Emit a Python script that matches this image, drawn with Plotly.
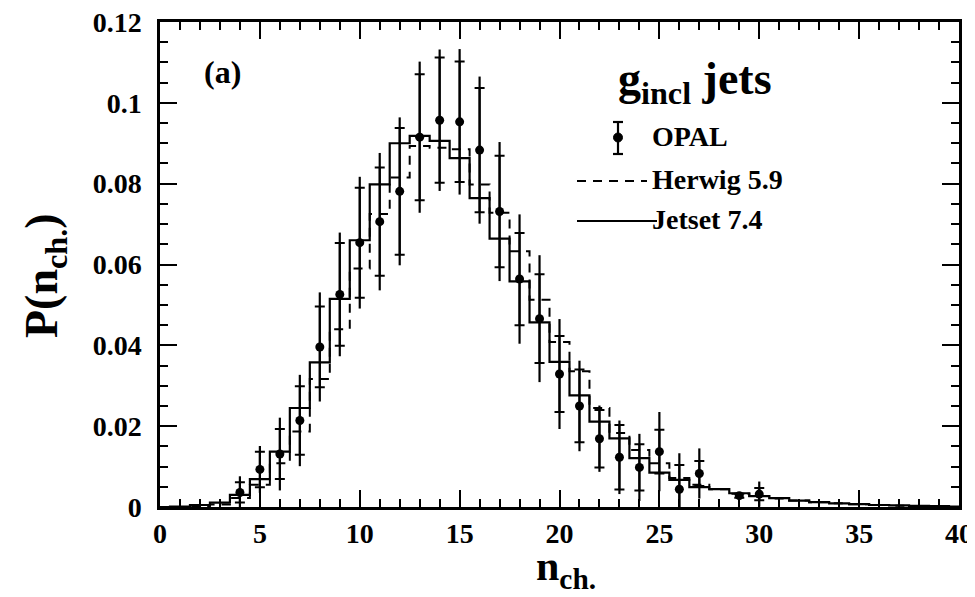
import plotly.graph_objects as go

# ---------------- data ----------------
bin_n = list(range(0, 41))
jetset = [0.0, 0.0001, 0.0005, 0.0011, 0.0030, 0.0069, 0.0137, 0.0245, 0.0358, 0.0515,
          0.0660, 0.0798, 0.0900, 0.0918, 0.0906, 0.0863, 0.0764, 0.0664, 0.0558, 0.0457,
          0.0359, 0.0276, 0.0211, 0.0170, 0.0121, 0.0085, 0.0067, 0.0049, 0.0044, 0.0034,
          0.0027, 0.0022, 0.0016, 0.0012, 0.0009, 0.0007, 0.0005, 0.0004, 0.0003, 0.0002,
          0.0001]
herwig = [0.0, 0.0, 0.0002, 0.0006, 0.0022, 0.0055, 0.0108, 0.0187, 0.0317, 0.0440,
          0.0590, 0.0725, 0.0815, 0.0893, 0.0889, 0.0885, 0.0798, 0.0728, 0.0633, 0.0513,
          0.0408, 0.0336, 0.0245, 0.0183, 0.0141, 0.0108, 0.0072, 0.0055, 0.0044, 0.0033,
          0.0027, 0.0021, 0.0016, 0.0012, 0.0009, 0.0007, 0.0005, 0.0003, 0.0002, 0.0001,
          0.0]

opal_n = [4, 5, 6, 7, 8, 9, 10, 11, 12, 13, 14, 15, 16, 17, 18, 19, 20, 21, 22, 23, 24,
          25, 26, 27, 29, 30]
opal_p = [0.0036, 0.0093, 0.0131, 0.0214, 0.0396, 0.0526, 0.0654, 0.0706, 0.0781, 0.0915,
          0.0957, 0.0953, 0.0883, 0.0731, 0.0564, 0.0466, 0.0329, 0.0250, 0.0169, 0.0123,
          0.0098, 0.0137, 0.0044, 0.0083, 0.0028, 0.0032]
opal_tot = [0.0040, 0.0058, 0.0090, 0.0113, 0.0135, 0.0153, 0.0163, 0.0170, 0.0183, 0.0187,
            0.0175, 0.0180, 0.0182, 0.0172, 0.0160, 0.0157, 0.0136, 0.0112, 0.0082, 0.0091,
            0.0083, 0.0098, 0.0089, 0.0062, 0.0008, 0.0031]
opal_stat = [0.0025, 0.0044, 0.0062, 0.0085, 0.0100, 0.0127, 0.0136, 0.0134, 0.0157, 0.0156,
             0.0155, 0.0149, 0.0154, 0.0138, 0.0114, 0.0110, 0.0094, 0.0090, 0.0071, 0.0080,
             0.0057, 0.0054, 0.0060, 0.0031, 0.0005, 0.0015]

x_ticks = [0, 5, 10, 15, 20, 25, 30, 35, 40]
y_ticks = [0, 0.02, 0.04, 0.06, 0.08, 0.10, 0.12]
y_ticktext = ["0", "0.02", "0.04", "0.06", "0.08", "0.1", "0.12"]

x_title = "n<sub>ch.</sub>"
y_title = "P(n<sub>ch.</sub>)"
legend_title = "g<sub>incl</sub> jets"
legend_names = ["OPAL", "Herwig 5.9", "Jetset 7.4"]
panel_label = "(a)"

# ---------------- figure ----------------
# the page body has an 8px margin: the figure is placed at (8, 8) in the window
OFF = 8
W, H = 975, 597
ML, MR, MT, MB = 160, 16, 22, 90          # wanted plot-area edges in window pixels
PW, PH = W - ML - MR, H - MT - MB

def px(x):
    return (x - ML) / PW

def py(y):
    return 1 - (y - MT) / PH

FONT = "Liberation Serif"

def f(size):
    return dict(family=FONT, size=size, color="black", weight="bold")

fig = go.Figure()
fig.add_trace(go.Scatter(x=bin_n, y=herwig, mode="lines", name=legend_names[1],
                         line=dict(shape="hvh", color="black", width=2, dash="9px,7px"),
                         showlegend=False))
fig.add_trace(go.Scatter(x=bin_n, y=jetset, mode="lines", name=legend_names[2],
                         line=dict(shape="hvh", color="black", width=2.2),
                         showlegend=False))
fig.add_trace(go.Scatter(x=opal_n, y=opal_p, mode="markers", name=legend_names[0],
                         marker=dict(color="black", size=9),
                         error_y=dict(type="data", array=opal_tot, width=0, thickness=2.2,
                                      color="black"),
                         showlegend=False))
fig.add_trace(go.Scatter(x=opal_n, y=opal_p, mode="markers", hoverinfo="skip",
                         marker=dict(color="rgba(0,0,0,0)", size=1),
                         error_y=dict(type="data", array=opal_stat, width=5, thickness=2,
                                      color="black"),
                         showlegend=False))

axis_common = dict(showgrid=False, zeroline=False, showline=True, linecolor="black",
                   linewidth=2.5, mirror="allticks", ticks="inside", tickcolor="black",
                   tickwidth=2, tickfont=f(28), automargin=False,
                   ticklabeloverflow="allow")

fig.update_xaxes(range=[0, 40], tickvals=x_ticks, ticklen=17,
                 minor=dict(dtick=1, ticklen=8, ticks="inside", tickwidth=1.6,
                            tickcolor="black"),
                 **axis_common)
fig.update_yaxes(range=[0, 0.12], tickvals=y_ticks, ticktext=y_ticktext, ticklen=17,
                 ticklabelstandoff=10,
                 minor=dict(dtick=0.005, ticklen=8, ticks="inside", tickwidth=1.6,
                            tickcolor="black"),
                 **axis_common)

annots = [
    dict(x=px(566), y=py(569), text=x_title, font=f(42)),
    dict(x=px(45), y=py(276), text=y_title, font=f(46), textangle=-90),
    dict(x=px(222), y=py(72), text=panel_label, font=f(32)),
    dict(x=px(695), y=py(82), text=legend_title, font=f(46)),
    dict(x=px(650), y=py(136), text=legend_names[0], xanchor="left", font=f(28)),
    dict(x=px(650), y=py(180), text=legend_names[1], xanchor="left", font=f(28)),
    dict(x=px(650), y=py(219), text=legend_names[2], xanchor="left", font=f(28)),
]
for a in annots:
    a.update(xref="paper", yref="paper", showarrow=False, yanchor="middle")
    a.setdefault("xanchor", "center")

lk = dict(color="black", width=2.2)
shapes = [
    dict(type="line", x0=px(618), x1=px(618), y0=py(122), y1=py(154), line=lk),
    dict(type="line", x0=px(613), x1=px(623), y0=py(122), y1=py(122), line=lk),
    dict(type="line", x0=px(613), x1=px(623), y0=py(154), y1=py(154), line=lk),
    dict(type="circle", x0=px(613.5), x1=px(622.5), y0=py(133), y1=py(142),
         fillcolor="black", line=dict(color="black", width=1)),
    dict(type="line", x0=px(577), x1=px(647), y0=py(181), y1=py(181),
         line=dict(color="black", width=2, dash="9px,7px")),
    dict(type="line", x0=px(577), x1=px(657), y0=py(221), y1=py(221), line=lk),
]
for s in shapes:
    s.update(xref="paper", yref="paper")

fig.update_layout(width=W - OFF, height=H - OFF,
                  margin=dict(l=ML - OFF, r=MR, t=MT - OFF, b=MB, autoexpand=False),
                  plot_bgcolor="white", paper_bgcolor="white",
                  annotations=annots, shapes=shapes, showlegend=False)

fig.write_html("out.html")
